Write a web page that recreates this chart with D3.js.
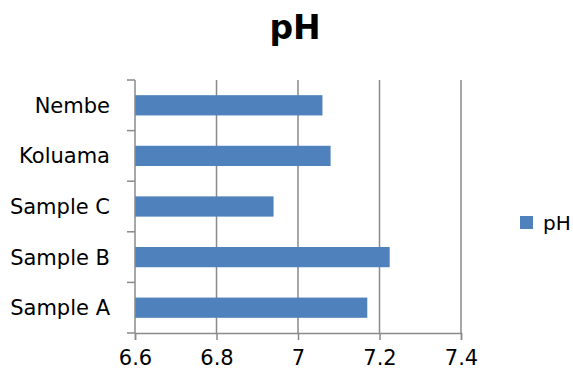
<!DOCTYPE html>
<html>
<head>
<meta charset="utf-8">
<script src="https://cdn.jsdelivr.net/npm/d3@7"></script>
<style>
  html, body { margin: 0; padding: 0; background: #fff; }
  svg { display: block; font-family: "DejaVu Sans", sans-serif; }
</style>
</head>
<body>
<div id="chart"></div>
<script>
// pH per sample site — bar chart (horizontal)
const categories = ['Nembe', 'Koluama', 'Sample C', 'Sample B', 'Sample A'];
const phValues = [7.06, 7.08, 6.94, 7.225, 7.17];
const xTicks = [6.6, 6.8, 7.0, 7.2, 7.4];
const seriesName = 'pH';

const totalW = 573, totalH = 371;
const margin = { top: 80, right: 112, bottom: 38, left: 135 };
const width = 461 - margin.left;
const height = 333 - margin.top;

const svg = d3.select('#chart').append('svg')
  .attr('width', totalW).attr('height', totalH);

const g = svg.append('g').attr('transform', `translate(${margin.left},${margin.top})`);

// Title
svg.append('text')
  .attr('x', 295).attr('y', 39).attr('text-anchor', 'middle')
  .attr('font-size', '33px').attr('font-weight', 'bold').attr('fill', '#000')
  .text('pH');

// Scales
const xScale = d3.scaleLinear().domain([6.6, 7.4]).range([0, width]);
const yScale = d3.scaleBand().domain(categories).range([0, height])
  .paddingInner(0.6).paddingOuter(0.3);

const gridColor = '#8a8a8a';

// Vertical gridlines
g.append('g')
  .selectAll('line').data(xTicks.slice(1)).join('line')
  .attr('x1', d => xScale(d)).attr('x2', d => xScale(d))
  .attr('y1', 0).attr('y2', height)
  .attr('stroke', gridColor).attr('stroke-width', 1.5);

// Bars
g.append('g')
  .selectAll('rect').data(categories).join('rect')
  .attr('x', xScale(6.6))
  .attr('y', d => yScale(d))
  .attr('width', (d, i) => xScale(phValues[i]) - xScale(6.6))
  .attr('height', yScale.bandwidth())
  .attr('fill', '#4f81bd');

// X axis
const xAxis = g.append('g').attr('transform', `translate(0,${height})`)
  .call(d3.axisBottom(xScale).tickValues(xTicks).tickSize(7).tickPadding(10)
    .tickFormat(d => d3.format('~g')(d)));
xAxis.select('.domain').attr('stroke', gridColor).attr('stroke-width', 1.5);
xAxis.selectAll('.tick line').attr('stroke', gridColor).attr('stroke-width', 1.5);
xAxis.selectAll('.tick text').attr('font-size', '21px').attr('fill', '#000')
  .attr('font-family', '"DejaVu Sans", sans-serif');

// Y axis: ticks at band boundaries, labels at band centres
const yAxis = g.append('g');
yAxis.append('line')
  .attr('x1', 0).attr('x2', 0).attr('y1', 0).attr('y2', height)
  .attr('stroke', gridColor).attr('stroke-width', 1.5);
const bounds = d3.range(categories.length + 1).map(i => i * height / categories.length);
yAxis.selectAll('line.tk').data(bounds).join('line').attr('class', 'tk')
  .attr('x1', -8).attr('x2', 0)
  .attr('y1', d => d).attr('y2', d => d)
  .attr('stroke', gridColor).attr('stroke-width', 1.5);
yAxis.selectAll('text').data(categories).join('text')
  .attr('x', -25).attr('y', d => yScale(d) + yScale.bandwidth() / 2)
  .attr('dy', '0.36em').attr('text-anchor', 'end')
  .attr('font-size', '21px').attr('fill', '#000')
  .text(d => d);

// Legend
const legend = svg.append('g').attr('transform', 'translate(520,216)');
legend.append('rect').attr('x', 0).attr('y', 0)
  .attr('width', 13).attr('height', 13).attr('fill', '#4f81bd');
legend.append('text').attr('x', 23).attr('y', 14)
  .attr('font-size', '20px').attr('fill', '#000').text(seriesName);
</script>
</body>
</html>
